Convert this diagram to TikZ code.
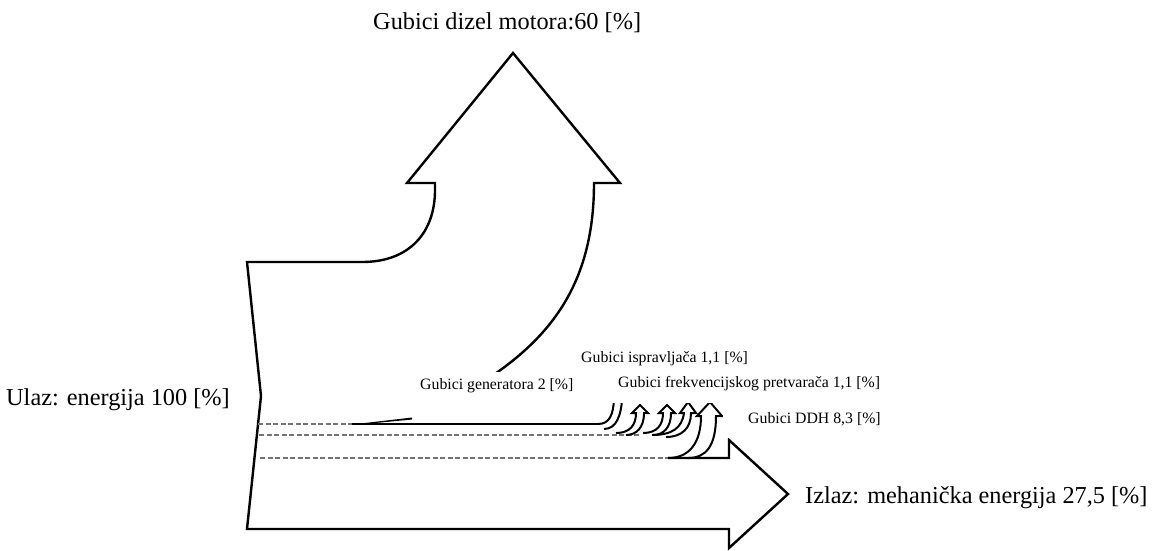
\documentclass[tikz,border=0pt]{standalone}
\usepackage{fontspec}
\setmainfont{Liberation Serif}
\begin{document}
\begin{tikzpicture}[x=1pt,y=-1pt,
  outline/.style={draw=black, line width=2.4pt, line join=miter},
  smallarrow/.style={draw=black, line width=2pt, line join=miter},
  flowdash/.style={draw=black!55, line width=2.2pt, dash pattern=on 5pt off 2.5pt},
  flowline/.style={draw=black, line width=2.6pt},
  mask/.style={fill=white},
  biglabel/.style={font=\fontsize{24.3}{28}\selectfont, anchor=base west, inner sep=0pt},
  smalllabel/.style={font=\fontsize{15.8}{18}\selectfont, anchor=base west, inner sep=0pt}]
\fill[white] (0,0) rectangle (1166,550);
\useasboundingbox (0,0) rectangle (1166,550);

% input / output body
\draw[outline] (362,262) -- (247,262) -- (261,396) -- (247,529) -- (729,529)
  -- (729,548) -- (788,494) -- (729,440) -- (729,458) -- (668,458);
% diesel loss arrow
\draw[outline] (362,262) .. controls (410,262) and (435,232) .. (435,190)
  -- (435,183) -- (407,183) -- (513,53) -- (620,183) -- (594,183)
  .. controls (594,290) and (545,345) .. (470,390);

% flow boundaries
\draw[flowdash] (258,424) -- (352,424);
\draw[flowline] (352,424) -- (598,424);
\fill[black] (352,424.5) -- (412,417.5) -- (412,419.5) -- (370,423.5) -- cycle;
\draw[flowdash] (259,435) -- (640,435);
\draw[flowdash] (260,458) -- (668,458);

% small loss arrows
\draw[smallarrow] (598,424) .. controls (610,424) and (613,414) .. (614,400);
\draw[smallarrow] (604,429) .. controls (617,429) and (621,414) .. (622,400);
\draw[smallarrow] (616,433) .. controls (630,433) and (636,425) .. (636,413)
  -- (632,413) -- (640,405) -- (648,413) -- (644,413)
  .. controls (644,428) and (636,435) .. (626,435);
\draw[smallarrow] (643,433) .. controls (657,433) and (663,425) .. (663,413)
  -- (659,413) -- (667,405) -- (675,413) -- (671,413)
  .. controls (671,428) and (663,435) .. (653,435);
\draw[smallarrow] (652,435) .. controls (672,435) and (682,428) .. (684,413)
  -- (680,413) -- (688,402) -- (696,413) -- (691,413)
  .. controls (691,428) and (682,437) .. (666,437);
\draw[smallarrow] (668,458) .. controls (690,458) and (701,442) .. (701,416)
  -- (697,416) -- (710,402) -- (722,416) -- (716,416)
  .. controls (716,446) and (706,458) .. (688,458);

% label backgrounds
\fill[mask] (414,372) rectangle (584,414);
\fill[mask] (598,369) rectangle (890,403);
\fill[mask] (723,403) rectangle (880,438);

% labels
\node[biglabel] (dizel) at (373,29) {Gubici dizel motora:60 [\%]};
\node[biglabel] (ulaz) at (6,405) {Ulaz: energija 100 [\%]};
\node[biglabel] (izlaz) at (805,503) {Izlaz: mehanička energija 27,5 [\%]};
\node[smalllabel] (gen) at (420,389) {Gubici generatora 2 [\%]};
\node[smalllabel] (isp) at (581,362) {Gubici ispravljača 1,1 [\%]};
\node[smalllabel] (frek) at (618,387) {Gubici frekvencijskog pretvarača 1,1 [\%]};
\node[smalllabel] (ddh) at (748,423) {Gubici DDH 8,3 [\%]};
\end{tikzpicture}
\end{document}
